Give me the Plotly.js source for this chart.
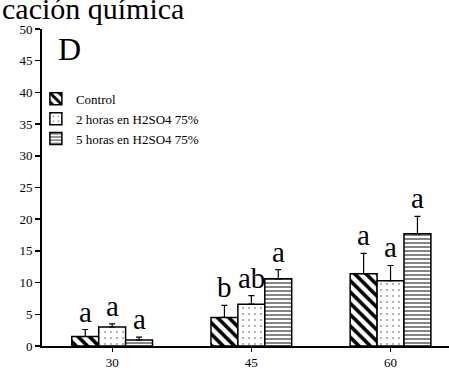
<!DOCTYPE html>
<html>
<head>
<meta charset="utf-8">
<script src="https://cdn.plot.ly/plotly-3.0.1.min.js"></script>
<style>html,body{margin:0;padding:0;background:#fff;}#chart{width:449px;height:373px;}</style>
</head>
<body>
<div id="chart"></div>
<script>
const categories = ['30', '45', '60'];
const seriesNames = ['Control', '2 horas en H2SO4 75%', '5 horas en H2SO4 75%'];
const controlValues = [1.5, 4.5, 11.4];
const controlErrors = [1.1, 1.9, 3.2];
const h2Values = [3.0, 6.6, 10.3];
const h2Errors = [0.5, 1.35, 2.4];
const h5Values = [0.95, 10.6, 17.7];
const h5Errors = [0.45, 1.45, 2.75];
const controlLetters = ['a', 'b', 'a'];
const h2Letters = ['a', 'ab', 'a'];
const h5Letters = ['a', 'a', 'a'];
const yTicks = [0, 5, 10, 15, 20, 25, 30, 35, 40, 45, 50];
const titleText = 'cación química';

const FONT = 'Liberation Serif';
const patterns = [
  {shape: '\\', size: 8, solidity: 0.45, fgcolor: '#000', bgcolor: '#fff'},
  {shape: '.', size: 6, solidity: 0.06, fgcolor: '#555', bgcolor: '#fff'},
  {shape: '-', size: 4, solidity: 0.3, fgcolor: '#333', bgcolor: '#fff'}
];
const values = [controlValues, h2Values, h5Values];
const errors = [controlErrors, h2Errors, h5Errors];
const letters = [controlLetters, h2Letters, h5Letters];

const traces = values.map((v, i) => ({
  type: 'bar',
  name: seriesNames[i],
  x: categories,
  y: v,
  marker: {color: '#fff', pattern: patterns[i], line: {color: '#000', width: 1.5}},
  error_y: {type: 'data', symmetric: false, array: errors[i], arrayminus: v.map(() => 0),
            color: '#000', thickness: 1.2, width: 3}
}));

const barW = 0.194;
const annotations = [];
values.forEach((v, i) => {
  v.forEach((val, j) => {
    annotations.push({
      x: j + (i - 1) * barW, xref: 'x', y: val + errors[i][j], yref: 'y',
      text: letters[i][j], showarrow: false, xanchor: 'center', yanchor: 'bottom',
      yshift: 0, font: {family: FONT, size: 29, color: '#000'}
    });
  });
});
annotations.push({x: 0.035, xref: 'paper', y: 1.0, yref: 'paper', text: 'D', showarrow: false,
  xanchor: 'left', yanchor: 'top', font: {family: FONT, size: 32, color: '#000'}});
annotations.push({x: -0.103, xref: 'paper', y: 1.0, yref: 'paper', text: titleText, showarrow: false,
  xanchor: 'left', yanchor: 'bottom', yshift: 2, font: {family: FONT, size: 30, color: '#000'}});

const layout = {
  width: 449, height: 373,
  margin: {l: 42, r: 0, t: 29, b: 27},
  paper_bgcolor: '#fff', plot_bgcolor: '#fff',
  barmode: 'group', bargap: 0.42, bargroupgap: 0,
  showlegend: true,
  legend: {x: -0.015, y: 0.827, xanchor: 'left', yanchor: 'top', bgcolor: 'rgba(0,0,0,0)',
           font: {family: FONT, size: 13, color: '#000'}, tracegroupgap: 0, itemwidth: 30},
  font: {family: FONT, color: '#000'},
  xaxis: {type: 'category', range: [-0.504, 2.42], showline: true, linecolor: '#000', linewidth: 1.8,
          ticks: 'outside', ticklen: 4, tickcolor: '#000', tickwidth: 1.2,
          tickfont: {family: FONT, size: 13, color: '#000'}, showgrid: false, zeroline: false, fixedrange: true},
  yaxis: {range: [0, 50], tickvals: yTicks, showline: true, linecolor: '#000', linewidth: 2,
          ticks: 'outside', ticklen: 5, tickcolor: '#000', tickwidth: 1.5,
          tickfont: {family: FONT, size: 13, color: '#000'}, showgrid: false, zeroline: false, fixedrange: true},
  annotations: annotations
};

Plotly.newPlot('chart', traces, layout, {displayModeBar: false, staticPlot: true});
</script>
</body>
</html>
